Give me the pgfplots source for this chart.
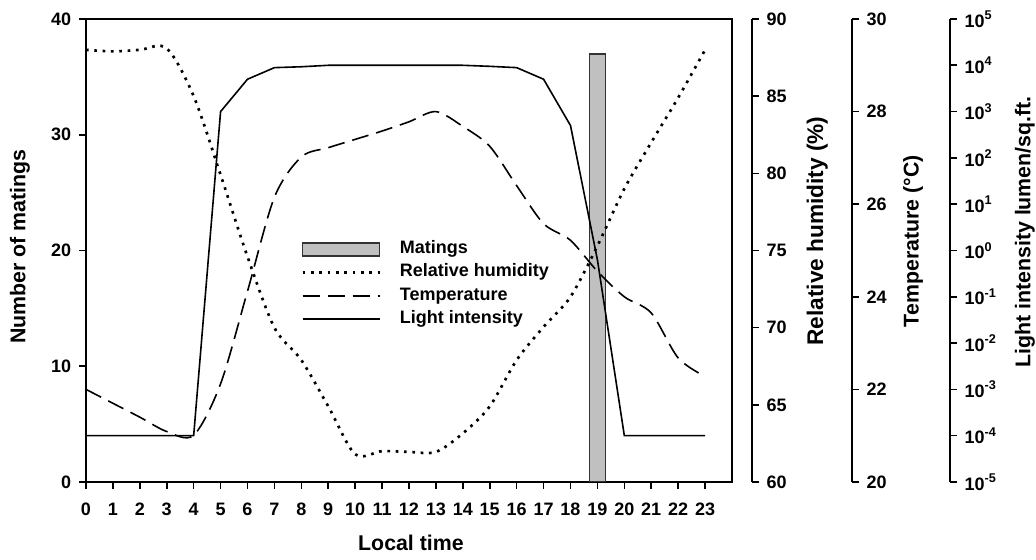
\documentclass[border=0pt]{standalone}
\usepackage{fontspec}
\setmainfont{Liberation Sans}
\usepackage{pgfplots}
\pgfplotsset{compat=1.18}
\definecolor{barfill}{RGB}{192,192,192}
\newcommand\sps[1]{\raisebox{0.42em}{\fontsize{9.5}{10}\selectfont\bfseries #1}}

\pgfplotstableread{
x rh temp light
0 88.0 22.00 1e-4
1 87.9 21.70 1e-4
2 88.0 21.40 1e-4
3 88.1 21.09 1e-4
4 85.0 21.01 1e-4
5 79.9 22.12 1000
6 74.6 24.12 5000
7 70.0 26.15 8900
8 67.9 27.02 9300
9 64.9 27.22 10000
10 61.8 27.40 10000
11 62.0 27.58 10000
12 61.95 27.78 10000
13 61.95 28.00 10000
14 63.15 27.68 10000
15 64.9 27.25 9500
16 67.9 26.40 8900
17 70.05 25.58 5000
18 72.0 25.22 500
19 75.3 24.55 0.63
20 79.0 24.00 1e-4
21 82.0 23.65 1e-4
22 84.9 22.68 1e-4
23 88.0 22.28 1e-4
}\datatable

\tikzset{
  rhline/.style={line width=2pt, dash pattern=on 2pt off 4.25pt},
  templine/.style={line width=1.2pt, dash pattern=on 12.75pt off 6pt},
  lightline/.style={line width=1.2pt},
}
\pgfplotsset{
  base/.style={
    scale only axis, width=484.5pt, height=347.25pt,
    xmin=0, xmax=24,
    /pgf/number format/assume math mode=true,
    tick label style={font=\fontsize{13.5}{15}\selectfont\bfseries},
    axis line style={line width=1.2pt},
    every tick/.style={line width=1.2pt, black},
    major tick length=5.25pt,
    tick align=outside,
  },
  hidden/.style={base, hide axis},
  rightax/.style={base, hide x axis, axis y line*=right,
    yticklabel style={xshift=2.2pt},
    every axis y label/.style={at={(rel axis cs:1,#1)}, anchor=center, rotate=90,
      font=\fontsize{16}{19}\selectfont\bfseries}},
}

\begin{document}
\begin{tikzpicture}
% main axis
\begin{axis}[base,
  ymin=0, ymax=40, ytick={0,10,20,30,40},
  xtick={0,1,...,23}, tick pos=left,
  xticklabel style={yshift=-7pt},
  yticklabel style={xshift=-2.4pt},
  every axis y label/.style={at={(rel axis cs:0,0.508)}, anchor=center, xshift=-49.5pt, rotate=90,
    font=\fontsize{16}{19}\selectfont\bfseries},
  every axis x label/.style={at={(rel axis cs:0.503,0)}, anchor=center, yshift=-45.75pt,
    font=\fontsize{16}{19}\selectfont\bfseries},
  xlabel={Local time}, ylabel={Number of matings},
  legend style={at={(rel axis cs:0.3328,0.5227)}, anchor=north west, draw=none, fill=none,
    inner xsep=0pt, inner ysep=0pt, column sep=14.25pt, row sep=4pt,
    nodes={inner sep=0pt, text height=10pt, text depth=3.5pt},
    font=\fontsize{13.5}{15}\selectfont\bfseries},
  legend cell align=left,
]
\addplot[ybar, bar width=12pt, fill=barfill, draw=black!80, line width=1.2pt, forget plot]
  coordinates {(19,37)};
\addlegendimage{legend image code/.code={\draw[line width=1.2pt, fill=barfill, draw=black!80] (0pt,-4.9pt) rectangle (57.75pt,4.9pt);}}
\addlegendentry{Matings}
\addlegendimage{legend image code/.code={\draw[rhline] (0pt,0pt) -- (57.75pt,0pt);}}
\addlegendentry{Relative humidity}
\addlegendimage{legend image code/.code={\draw[templine] (0pt,0pt) -- (57.75pt,0pt);}}
\addlegendentry{Temperature}
\addlegendimage{legend image code/.code={\draw[lightline] (0pt,0pt) -- (57.75pt,0pt);}}
\addlegendentry{Light intensity}
\end{axis}
% data axes
\begin{axis}[hidden, ymin=60, ymax=90]
\addplot[rhline, smooth, tension=0.5] table[x=x, y=rh] {\datatable};
\end{axis}
\begin{axis}[hidden, ymin=20, ymax=30]
\addplot[templine, smooth, tension=0.5] table[x=x, y=temp] {\datatable};
\end{axis}
\begin{axis}[hidden, ymode=log, ymin=1e-5, ymax=1e5]
\addplot[lightline] table[x=x, y=light] {\datatable};
\end{axis}
% right axes
\begin{axis}[rightax=0.542, at={(15pt,0pt)}, ymin=60, ymax=90, ytick={60,65,...,90},
  ylabel={Relative humidity (\%)}, ylabel style={yshift=-49pt, font=\fontsize{17}{20}\selectfont\bfseries}]
\addplot[draw=none] coordinates {(0,60)};
\end{axis}
\begin{axis}[rightax=0.52, at={(90pt,0pt)}, ymin=20, ymax=30, ytick={20,22,...,30},
  ylabel={Temperature (°C)}, ylabel style={yshift=-45.75pt}]
\addplot[draw=none] coordinates {(0,20)};
\end{axis}
\begin{axis}[rightax=0.54, at={(163.5pt,0pt)}, ymode=log, ymin=1e-5, ymax=1e5, yminorticks=false,
  ytick={1e-5,1e-4,1e-3,1e-2,1e-1,1,10,100,1000,10000,100000},
  yticklabels={10\sps{-5},10\sps{-4},10\sps{-3},10\sps{-2},10\sps{-1},10\sps{0},10\sps{1},10\sps{2},10\sps{3},10\sps{4},10\sps{5}},
  ylabel={Light intensity lumen/sq.ft.}, ylabel style={yshift=-56.25pt}]
\addplot[draw=none] coordinates {(0,1)};
\end{axis}
\pgfresetboundingbox
\path[use as bounding box] (-64.5pt,-58.5pt) rectangle (712.5pt,361.5pt);
\end{tikzpicture}
\end{document}
